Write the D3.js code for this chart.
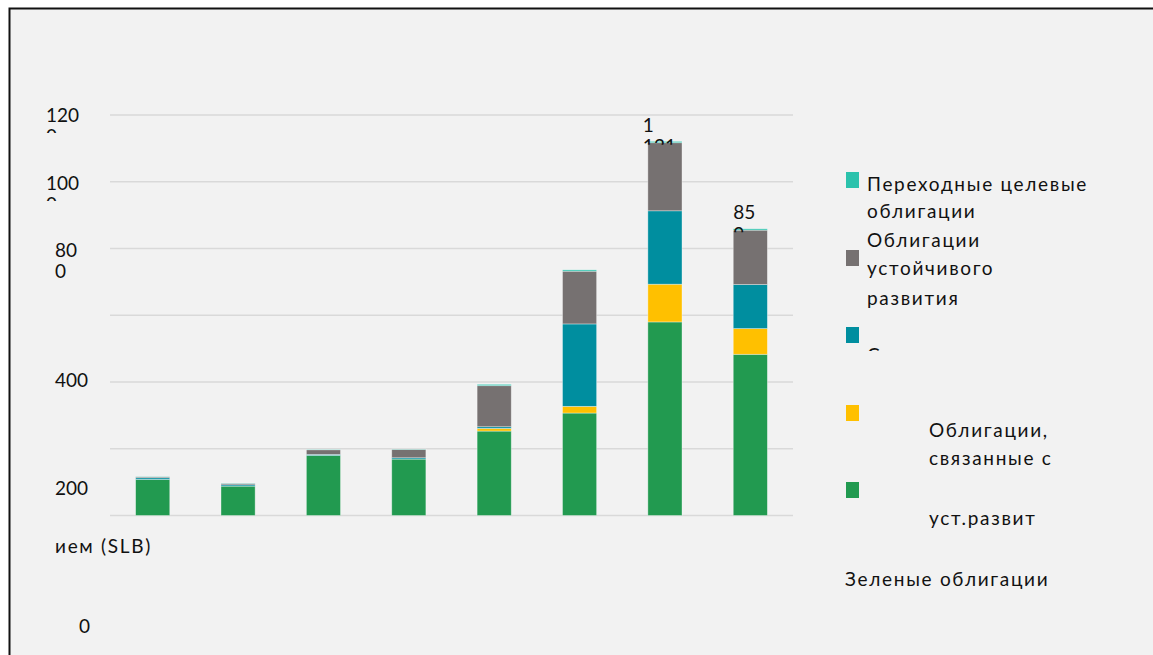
<!DOCTYPE html>
<html lang="ru">
<head>
    <meta charset="UTF-8">
    <title>Облигации устойчивого развития</title>
    <script src="https://d3js.org/d3.v7.min.js"></script>
    <style>
        body {
            margin: 0;
            background: #fff;
            overflow: hidden;
        }
        text {
            font-family: Lato, "Open Sans", sans-serif;
            font-size: 19px;
            fill: #111;
        }
        text.word {
            letter-spacing: 1.7px;
        }
    </style>
</head>
<body>
    <div id="chart"></div>
    <script>
        // Data
        const categories = ["2015", "2016", "2017", "2018", "2019", "2020", "2021", "2022"];
        const green = [108, 88, 180, 169, 253, 307, 580, 483];
        const slb = [0, 0, 0, 0, 8, 20, 113, 77];
        const social = [5, 4, 3, 4, 5, 247, 220, 132];
        const sustainable = [3, 4, 14, 25, 123, 158, 204, 163];
        const transition = [1, 1, 1, 1, 4, 4, 4, 4];
        const yTicks = [0, 200, 400, 600, 800, 1000, 1200];
        const labelledBars = [6, 7];

        const seriesKeys = ["green", "slb", "social", "sustainable", "transition"];
        const seriesValues = { green, slb, social, sustainable, transition };
        const colors = {
            green: "#229A50",
            slb: "#FFC000",
            social: "#008E9F",
            sustainable: "#767171",
            transition: "#2CC2AC"
        };

        // Y tick labels as they came out in the source (wrapped / shifted)
        const tickLabels = [
            { lines: ["120", "0"], x: 46, y: 122, clip: 11 },
            { lines: ["100", "0"], x: 46, y: 190, clip: 11 },
            { lines: ["80", "0"], x: 55, y: 257 },
            { lines: ["400"], x: 55, y: 387 },
            { lines: ["200"], x: 55, y: 495 },
            { lines: ["ием (SLB)"], x: 55, y: 553, word: true },
            { lines: ["0"], x: 79, y: 633 }
        ];

        // Legend, top to bottom, as rendered in the source
        const legendSwatches = [
            { key: "transition", y: 172 },
            { key: "sustainable", y: 250 },
            { key: "social", y: 327 },
            { key: "slb", y: 405 },
            { key: "green", y: 482 }
        ];
        const legendTexts = [
            { text: "Переходные целевые", x: 867, y: 191 },
            { text: "облигации", x: 867, y: 218 },
            { text: "Облигации", x: 867, y: 247 },
            { text: "устойчивого", x: 867, y: 275 },
            { text: "развития", x: 867, y: 305 },
            { text: "Социальные", x: 867, y: 362, clipAt: 351 },
            { text: "Облигации,", x: 929, y: 437 },
            { text: "связанные с", x: 929, y: 465 },
            { text: "уст.развит", x: 929, y: 525 },
            { text: "Зеленые облигации", x: 845, y: 586 }
        ];

        const width = 1153, height = 655;
        const plot = { left: 110, right: 793, top: 115, bottom: 515.5 };

        const svg = d3.select("#chart").append("svg")
            .attr("width", width)
            .attr("height", height);
        const defs = svg.append("defs");

        // frame
        svg.append("rect")
            .attr("x", 9.5).attr("y", 8.5)
            .attr("width", width).attr("height", height)
            .attr("fill", "#F2F2F2")
            .attr("stroke", "#111")
            .attr("stroke-width", 2);

        const x = d3.scaleBand()
            .domain(categories)
            .range([plot.left, plot.right])
            .paddingInner(0.6)
            .paddingOuter(0.3);

        const y = d3.scaleLinear()
            .domain([0, 1200])
            .range([plot.bottom, plot.top]);

        // gridlines
        svg.append("g")
            .selectAll("line")
            .data(yTicks)
            .join("line")
            .attr("x1", plot.left).attr("x2", plot.right)
            .attr("y1", d => y(d)).attr("y2", d => y(d))
            .attr("stroke", "#D9D9D9")
            .attr("stroke-width", 1.5);

        // stacked bars
        const table = categories.map((c, i) => {
            const row = { cat: c };
            seriesKeys.forEach(k => row[k] = seriesValues[k][i]);
            return row;
        });
        const stacked = d3.stack().keys(seriesKeys)(table);

        svg.append("g")
            .selectAll("g")
            .data(stacked)
            .join("g")
            .attr("fill", d => colors[d.key])
            .selectAll("rect")
            .data(d => d)
            .join("rect")
            .attr("x", d => x(d.data.cat))
            .attr("width", x.bandwidth())
            .attr("y", d => y(d[1]))
            .attr("height", d => y(d[0]) - y(d[1]))
            .attr("stroke", "rgba(255,255,255,0.45)")
            .attr("stroke-width", 0.8);

        // helper: text block whose second line is cut off
        function clippedText(id, lines, tx, ty, clipBottom, word) {
            const g = svg.append("g");
            if (clipBottom != null) {
                defs.append("clipPath").attr("id", id)
                    .append("rect")
                    .attr("x", 0).attr("y", 0)
                    .attr("width", width).attr("height", clipBottom);
                g.attr("clip-path", `url(#${id})`);
            }
            lines.forEach((l, i) => {
                g.append("text")
                    .attr("class", word ? "word" : null)
                    .attr("x", tx)
                    .attr("y", ty + i * 21.3)
                    .text(l);
            });
        }

        // total labels (wrapped, second line hidden under the bar)
        const totals = table.map(r => d3.sum(seriesKeys, k => r[k]));
        labelledBars.forEach(i => {
            const t = totals[i];
            const lines = t >= 1000
                ? [String(Math.floor(t / 1000)), d3.format("03d")(t % 1000)]
                : [String(t).slice(0, 2), String(t).slice(2)];
            const top = y(t);
            const bx = x(categories[i]) + (t >= 1000 ? -5 : 0);
            clippedText("tot" + i, lines, bx, top - 9.5, top + 3.5);
        });

        // y tick labels
        tickLabels.forEach((t, i) => {
            clippedText("tick" + i, t.lines, t.x, t.y, t.clip != null ? t.y + t.clip : null, t.word);
        });

        // legend
        svg.append("g")
            .selectAll("rect")
            .data(legendSwatches)
            .join("rect")
            .attr("x", 846)
            .attr("y", d => d.y)
            .attr("width", 13)
            .attr("height", 16)
            .attr("fill", d => colors[d.key]);

        legendTexts.forEach((t, i) => {
            clippedText("leg" + i, [t.text], t.x, t.y, t.clipAt != null ? t.clipAt : null, true);
        });
    </script>
</body>
</html>
